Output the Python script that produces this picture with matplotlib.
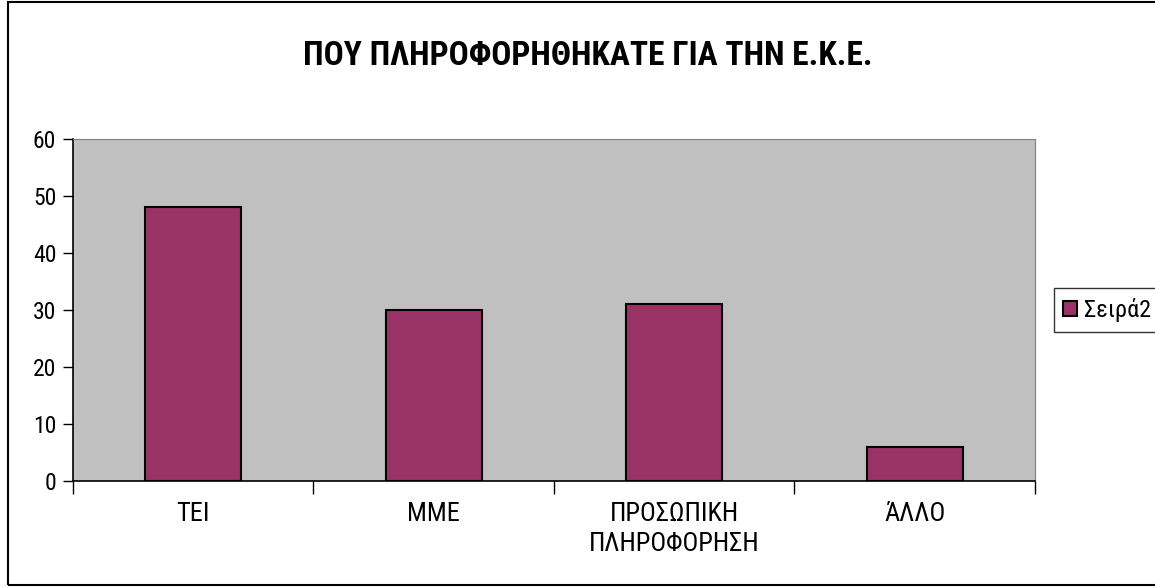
import matplotlib
matplotlib.use("Agg")
import matplotlib.pyplot as plt
from matplotlib.patches import Rectangle

categories = ["ΤΕΙ", "ΜΜΕ", "ΠΡΟΣΩΠΙΚΗ\nΠΛΗΡΟΦΟΡΗΣΗ", "ΆΛΛΟ"]
values = [48, 30, 31, 6]
series_name = "Σειρά2"
title = "ΠΟΥ ΠΛΗΡΟΦΟΡΗΘΗΚΑΤΕ ΓΙΑ ΤΗΝ Ε.Κ.Ε."

# narrow font, like Arial Narrow in the original
plt.rcParams['font.family'] = ['Roboto Condensed', 'Open Sans Condensed', 'DejaVu Sans']

fig = plt.figure(figsize=(11.55, 5.87), dpi=100)
fig.patches.append(Rectangle((0.007, 0.003), 1.2, 0.994, transform=fig.transFigure,
                             fill=False, edgecolor='black', linewidth=1.5))

ax = fig.add_axes([0.0632, 0.1806, 0.8328, 0.5824])
ax.set_facecolor('#C0C0C0')
x = range(len(categories))
ax.bar(x, values, width=0.4, color='#993366', edgecolor='black',
       linewidth=1.5, label=series_name, zorder=3)

ax.set_xlim(-0.5, len(categories) - 0.5)
ax.set_ylim(0, 60)
ax.set_yticks(range(0, 61, 10))
ax.tick_params(axis='y', labelsize=17, length=7, width=1, direction='out', pad=5)
ax.set_xticks([i - 0.5 for i in range(len(categories) + 1)])
ax.set_xticklabels([])
ax.set_xticks(list(x), minor=True)
ax.set_xticklabels(categories, minor=True, fontsize=19, linespacing=1.35)
ax.tick_params(axis='x', which='major', length=9, width=1, direction='out')
ax.tick_params(axis='x', which='minor', length=0, pad=15)

for s in ['top', 'right']:
    ax.spines[s].set_color('#808080')
for s in ['left', 'bottom']:
    ax.spines[s].set_color('black')
    ax.spines[s].set_linewidth(1.2)

fig.text(0.509, 0.905, title, ha='center', va='center', fontsize=24,
         fontweight='bold')

leg = ax.legend(loc='center left', bbox_to_anchor=(1.007, 0.5), fontsize=17.5,
                frameon=True, fancybox=False, edgecolor='black',
                handlelength=0.55, handleheight=0.55, handletextpad=0.3,
                borderpad=0.4)
leg.get_frame().set_linewidth(1)

fig.savefig("out.png", dpi=100)
